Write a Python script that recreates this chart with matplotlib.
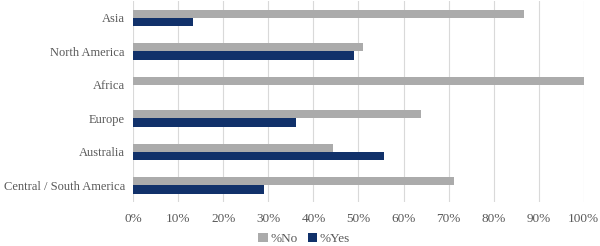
import numpy as np
import matplotlib.pyplot as plt
from matplotlib.ticker import PercentFormatter

regions = ['Asia', 'North America', 'Africa', 'Europe', 'Australia',
           'Central / South America']
pct_no = [86.7, 51.0, 100.0, 63.8, 44.4, 71.1]
pct_yes = [13.3, 49.0, 0.0, 36.2, 55.6, 29.0]

plt.rcParams['font.family'] = ['Liberation Serif', 'DejaVu Serif']

fig, ax = plt.subplots(figsize=(6, 2.46), dpi=100)
fig.subplots_adjust(left=0.222, right=0.973, top=0.995, bottom=0.178)

y = np.arange(len(regions))
h = 0.25
ax.barh(y - h / 2, pct_no, height=h, color='#ababab', label='%No', zorder=3)
ax.barh(y + h / 2, pct_yes, height=h, color='#11316a', label='%Yes', zorder=3)

ax.set_yticks(y)
ax.set_yticklabels(regions)
ax.set_ylim(len(regions) - 0.5, -0.5)
ax.set_xlim(0, 100)
ax.set_xticks(np.arange(0, 101, 10))
ax.xaxis.set_major_formatter(PercentFormatter(decimals=0))

ax.grid(axis='x', color='#d9d9d9', linewidth=0.8, zorder=0)
for s in ax.spines.values():
    s.set_visible(False)
ax.tick_params(axis='y', length=0, labelsize=9, colors='#595959', pad=6)
ax.tick_params(axis='x', length=0, labelsize=9.5, colors='#595959', pad=8)

fig.legend(loc='center', bbox_to_anchor=(0.507, 0.028), ncol=2,
           frameon=False, fontsize=9.5, handlelength=0.7, handleheight=0.7,
           handletextpad=0.2, columnspacing=0.8, labelcolor='#595959',
           borderpad=0)

plt.savefig('out.png', dpi=100)
